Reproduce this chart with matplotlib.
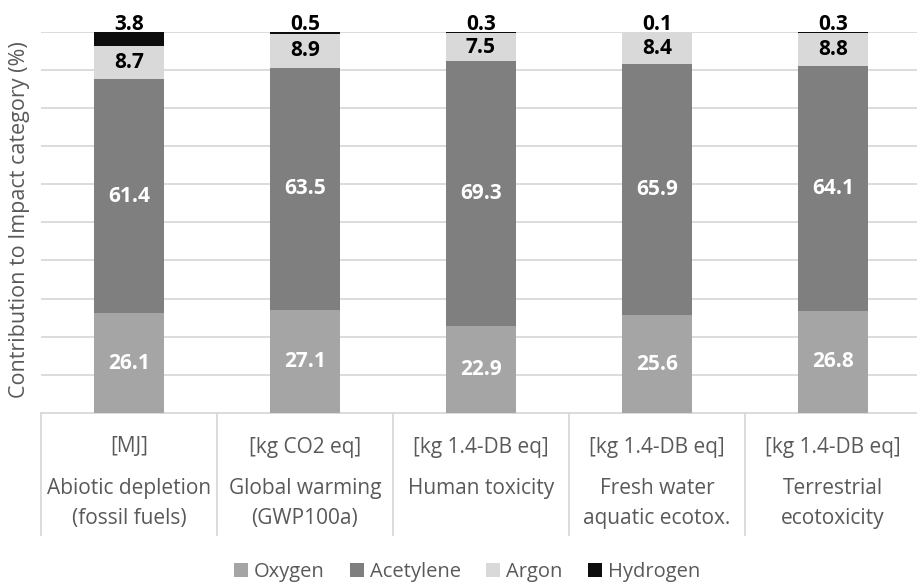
import numpy as np
import matplotlib.pyplot as plt
from matplotlib.patches import Patch

plt.rcParams['font.family'] = ['Open Sans', 'DejaVu Sans']

# ----------------------------------------------------------------------
# data
# ----------------------------------------------------------------------
units = ['[MJ]', '[kg CO2 eq]', '[kg 1.4-DB eq]', '[kg 1.4-DB eq]', '[kg 1.4-DB eq]']
categories = ['Abiotic depletion\n(fossil fuels)', 'Global warming\n(GWP100a)',
              'Human toxicity', 'Fresh water\naquatic ecotox.', 'Terrestrial\necotoxicity']
series = ['Oxygen', 'Acetylene', 'Argon', 'Hydrogen']
oxygen = [26.1, 27.1, 22.9, 25.6, 26.8]
acetylene = [61.4, 63.5, 69.3, 65.9, 64.1]
argon = [8.7, 8.9, 7.5, 8.4, 8.8]
hydrogen = [3.8, 0.5, 0.3, 0.1, 0.3]

colors = ['#A5A5A5', '#7F7F7F', '#D9D9D9', '#0D0D0D']
label_colors = ['white', 'white', 'black', 'black']
grid_color = '#D9D9D9'
text_color = '#595959'

W, H = 917, 588
fig = plt.figure(figsize=(W / 100, H / 100), dpi=100)
ax = fig.add_axes([41 / W, 1 - 413 / H, 880 / W, (413 - 31.7) / H])
px = 100 / (413 - 31.7)  # one pixel in data units (y)

x = np.arange(len(categories))
bottom = np.zeros(len(categories))
for name, vals, col, lcol in zip(series, [oxygen, acetylene, argon, hydrogen], colors, label_colors):
    vals = np.array(vals)
    ax.bar(x, vals, 0.4, bottom=bottom, color=col, label=name, zorder=3)
    for xi, b, v in zip(x, bottom, vals):
        if name == 'Hydrogen':
            # label sits just above the top of the bar
            ax.text(xi, b + v + 2 * px, f'{v:.1f}', ha='center', va='baseline',
                    fontsize=15, fontweight='bold', color=lcol, clip_on=False)
        else:
            ax.text(xi, b + v / 2, f'{v:.1f}', ha='center', va='center',
                    fontsize=15, fontweight='bold', color=lcol)
    bottom += vals

ax.set_xlim(-0.5, len(categories) - 0.5)
ax.set_ylim(0, 100)
ax.set_yticks(np.arange(10, 101, 10))
ax.yaxis.grid(True, color=grid_color, linewidth=1.3, zorder=0)
ax.tick_params(left=False, labelleft=False, bottom=False, labelbottom=False)
for s in ['top', 'right', 'left']:
    ax.spines[s].set_visible(False)
ax.spines['bottom'].set_color(grid_color)
ax.spines['bottom'].set_linewidth(1.3)

fig.text(20 / W, 1 - 220 / H, 'Contribution to Impact category (%)', rotation=90,
         ha='center', va='center', fontsize=15.5, color=text_color)

# category table below the axis
trans = ax.get_xaxis_transform()
sep_bottom = -(535 - 413) / (413 - 31.7)
for b in np.arange(-0.5, len(categories) - 0.5):
    ax.plot([b, b], [0, sep_bottom], transform=trans, color=grid_color, lw=1.3, clip_on=False)
for xi, u, c in zip(x, units, categories):
    ax.text(xi, -(447 - 413) / 381.3, u, transform=trans, ha='center', va='center',
            fontsize=15, color=text_color)
    ax.text(xi, -(478 - 413) / 381.3, c, transform=trans, ha='center', va='top',
            fontsize=15, color=text_color, linespacing=1.55)

handles = [Patch(facecolor=c, edgecolor='none', label=n) for n, c in zip(series, colors)]
leg = fig.legend(handles=handles, loc='center', bbox_to_anchor=(467 / W, 1 - 572 / H),
                 ncol=4, frameon=False, fontsize=14.5, handlelength=0.7, handleheight=0.7,
                 handletextpad=0.3, columnspacing=1.25, borderpad=0)
for t in leg.get_texts():
    t.set_color(text_color)

fig.savefig('out.png', dpi=100)
